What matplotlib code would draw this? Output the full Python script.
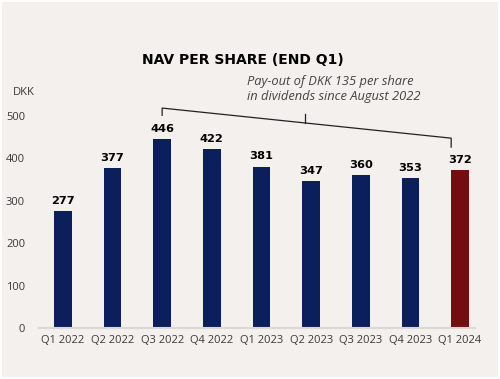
import matplotlib.pyplot as plt
import numpy as np

# data
quarters = ["Q1 2022", "Q2 2022", "Q3 2022", "Q4 2022", "Q1 2023",
            "Q2 2023", "Q3 2023", "Q4 2023", "Q1 2024"]
nav = [277, 377, 446, 422, 381, 347, 360, 353, 372]
yticks = [0, 100, 200, 300, 400, 500]

navy = "#0A1F5C"
red = "#740D0F"
bg = "#F3F0ED"
colors = [navy] * (len(nav) - 1) + [red]

plt.rcParams["font.family"] = ["Open Sans", "DejaVu Sans"]

fig = plt.figure(figsize=(5, 3.79), dpi=100, facecolor="white")
# background panel with thin white border
fig.patches.append(plt.Rectangle((0.004, 0.005), 0.992, 0.99, transform=fig.transFigure,
                                 facecolor=bg, edgecolor="none", zorder=-1))
ax = fig.add_axes([0.078, 0.1346, 0.872, 0.559])
ax.set_facecolor("none")

x = np.arange(len(nav))
ax.bar(x, nav, width=0.36, color=colors, zorder=2)

# value labels
for xi, v in zip(x, nav):
    ax.text(xi, v + 12, str(v), ha="center", va="bottom", fontsize=8.2,
            fontweight="bold", color="black", family="DejaVu Sans")

ax.set_xlim(-0.48, 8.3)
ax.set_ylim(0, 500)
ax.set_xticks(x)
ax.set_xticklabels(quarters, fontsize=8, color="#3a3a3a")
ax.set_yticks(yticks)
ax.set_yticklabels([str(t) for t in yticks], fontsize=8, color="#3a3a3a")
ax.tick_params(length=0, pad=5)
ax.tick_params(axis="y", pad=10)
for s in ["top", "right", "left"]:
    ax.spines[s].set_visible(False)
ax.spines["bottom"].set_color("#dcd9d5")
ax.spines["bottom"].set_linewidth(1.5)

# unit label
fig.text(0.026, 0.755, "DKK", fontsize=8, color="#3a3a3a", ha="left", va="center")

# title
fig.text(0.486, 0.842, "NAV PER SHARE (END Q1)", fontsize=10, fontweight="bold",
         ha="center", va="center", color="black", family="DejaVu Sans")

# bracket from Q3 2022 to Q1 2024
bx = [2, 2, 4.88, 7.82, 7.82]
by = [502, 519, 484, 448, 427]
ax.plot([bx[0], bx[1], bx[3], bx[4]], [by[0], by[1], by[3], by[4]],
        color="#222222", lw=0.9, clip_on=False)
ax.plot([4.88, 4.88], [484, 505], color="#222222", lw=0.9, clip_on=False)

ax.text(3.7, 563, "Pay-out of DKK 135 per share\nin dividends since August 2022",
        fontsize=9.3, style="italic", color="#444444", ha="left", va="center",
        linespacing=1.2, clip_on=False)

fig.savefig("out.png", dpi=100, facecolor="white")
